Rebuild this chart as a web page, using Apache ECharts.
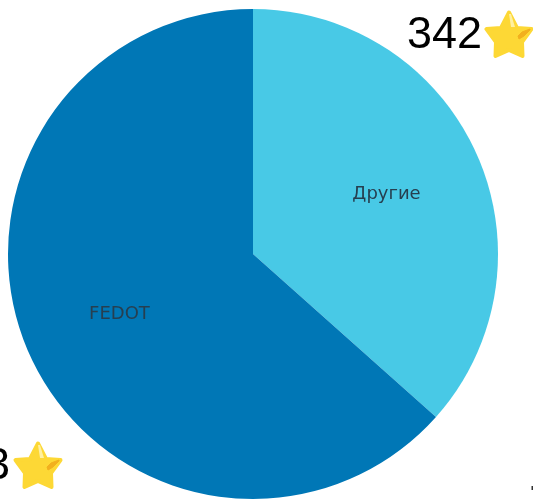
<!DOCTYPE html>
<html><head><meta charset="utf-8">
<style>html,body{margin:0;padding:0;background:#fff}#c{width:533px;height:501px}</style>
<script src="https://cdn.jsdelivr.net/npm/echarts@6/dist/echarts.min.js"></script>
</head><body><div id="c"></div>
<script>
const categories = ["Другие", "FEDOT"];
const stars = [342, 593];
const colors = ["#48C9E6", "#0077B6"];
const center = [253, 254];
const R = 245;

function star(cx, cy) {
  const pts = [[0,-22.5],[8,-7],[22.5,-6],[13,7],[13.5,21],[0,15],[-13.5,21],[-13,7],[-22.5,-6],[-8,-7]];
  return {
    type: 'group', x: cx, y: cy, silent: true,
    children: [
      {type:'polygon', shape:{points:pts}, style:{fill:'#FDD835', stroke:'#FDD835', lineWidth:4, lineJoin:'round'}},
      {type:'polygon', shape:{points:[[0,-21],[2,-21],[6,-8],[2,-8]]}, style:{fill:'#FFF0A0'}},
      {type:'polygon', shape:{points:[[9,1],[13,-3],[21,-6],[21,-5],[15,1],[10,4]]}, style:{fill:'#F2B01E', stroke:'#F2B01E', lineWidth:1, lineJoin:'round'}}
    ]
  };
}
const font = '45px "Liberation Sans", Arial, sans-serif';
const chart = echarts.init(document.getElementById('c'), null, {renderer:'canvas'});
const data = categories.map((n,i)=>({name:n, value:stars[i], itemStyle:{color:colors[i]}}));
chart.setOption({
  animation:false,
  backgroundColor:'#fff',
  series:[
    {type:'pie', center, radius:[0,R], startAngle:90, clockwise:true, silent:true,
     label:{show:false}, labelLine:{show:false}, data, itemStyle:{borderWidth:0}},
    {type:'pie', center, radius:[R*0.17,R], startAngle:90, clockwise:true, silent:true,
     label:{show:true, position:'inside', formatter:'{b}', color:'#263F50', fontSize:18,
            fontFamily:'"DejaVu Sans"', rotate:0, overflow:'none'},
     labelLine:{show:false},
     data:categories.map((n,i)=>({name:n, value:stars[i], itemStyle:{color:'rgba(0,0,0,0)'}}))}
  ],
  graphic:[
    {type:'text', x:482, y:36, silent:true, style:{text:String(stars[0]), font, fill:'#000', textAlign:'right', textVerticalAlign:'middle'}},
    star(509,35),
    {type:'text', x:10, y:467, silent:true, style:{text:String(stars[1]), font, fill:'#000', textAlign:'right', textVerticalAlign:'middle'}},
    star(38,466),
    {type:'rect', silent:true, shape:{x:531.5,y:486,width:2,height:4}, style:{fill:'#333'}}
  ]
});
</script></body></html>
